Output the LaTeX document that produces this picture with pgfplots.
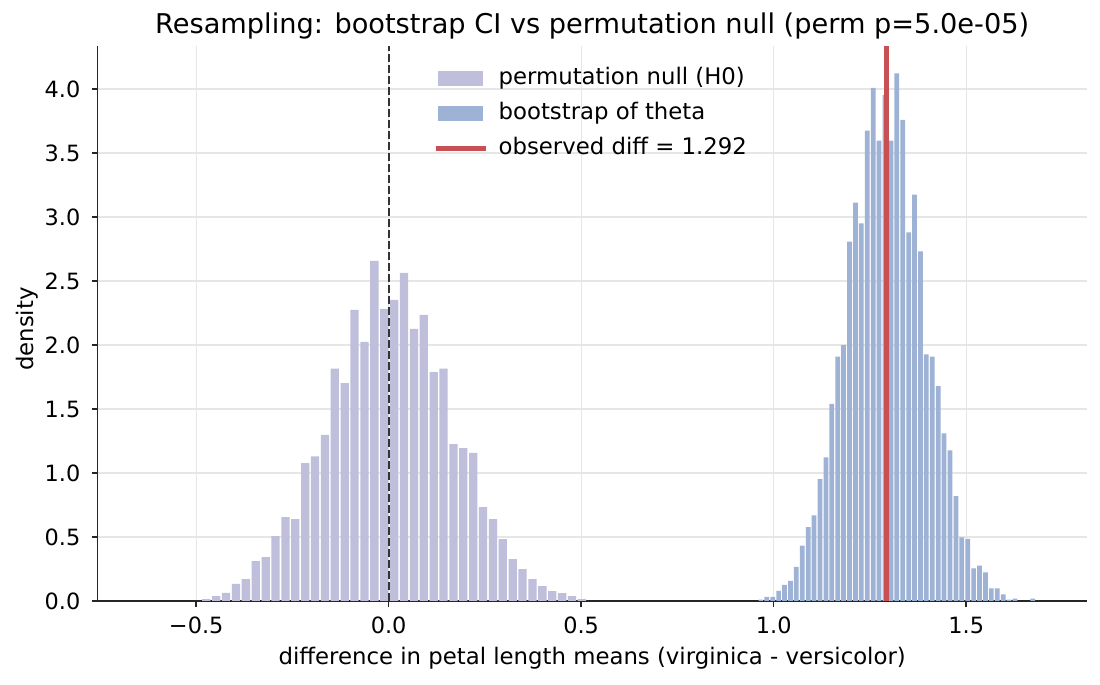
\documentclass[border=0pt]{standalone}
\usepackage{fontspec}
\setmainfont{DejaVu Sans}
\usepackage{pgfplots}
\usepackage{pgfplotstable}
\pgfplotsset{compat=1.18}

\definecolor{permfill}{RGB}{191,191,219}
\definecolor{bootfill}{RGB}{157,178,212}
\definecolor{obsred}{RGB}{199,80,84}
\definecolor{zeroline}{RGB}{51,51,51}
\definecolor{gridgray}{RGB}{230,230,230}
\definecolor{spine}{RGB}{38,38,38}

% permutation null: bin centre, density
\pgfplotstableread{
x y
-0.4736 0.014
-0.4479 0.038
-0.4223 0.064
-0.3966 0.134
-0.3709 0.171
-0.3453 0.311
-0.3196 0.343
-0.2939 0.507
-0.2682 0.656
-0.2426 0.640
-0.2169 1.078
-0.1912 1.130
-0.1656 1.297
-0.1399 1.815
-0.1142 1.703
-0.0886 2.274
-0.0629 2.024
-0.0372 2.657
-0.0115 2.282
0.0141 2.352
0.0398 2.563
0.0655 2.125
0.0911 2.235
0.1168 1.789
0.1425 1.815
0.1681 1.226
0.1938 1.195
0.2195 1.158
0.2451 0.734
0.2708 0.640
0.2965 0.484
0.3222 0.327
0.3478 0.249
0.3735 0.171
0.3992 0.116
0.4248 0.077
0.4505 0.061
0.4762 0.038
0.5018 0.014
}\permtable

% bootstrap of theta: bin centre, density
\pgfplotstableread{
x y
0.9667 0.011
0.9821 0.033
0.9974 0.033
1.0128 0.079
1.0281 0.125
1.0435 0.158
1.0588 0.266
1.0742 0.432
1.0895 0.578
1.1049 0.668
1.1202 0.953
1.1356 1.122
1.1509 1.540
1.1663 1.909
1.1816 1.999
1.1970 2.808
1.2123 3.112
1.2277 2.950
1.2430 3.675
1.2584 4.009
1.2737 3.596
1.2891 3.954
1.3044 3.596
1.3198 4.123
1.3351 3.759
1.3505 2.879
1.3658 3.175
1.3812 2.732
1.3965 1.926
1.4119 1.909
1.4272 1.678
1.4426 1.309
1.4579 1.176
1.4733 0.820
1.4886 0.497
1.5040 0.486
1.5193 0.255
1.5347 0.277
1.5500 0.223
1.5654 0.098
1.5807 0.098
1.5961 0.052
1.6114 0.011
1.6268 0.019
1.6728 0.019
}\boottable

\begin{document}
\begin{tikzpicture}
\useasboundingbox (0,0) rectangle (550pt,342.5pt);
\begin{axis}[
  at={(48.85pt,42pt)}, anchor=south west,
  width=494.5pt, height=277.5pt, scale only axis,
  xmin=-0.7558, xmax=1.813, ymin=0, ymax=4.336,
  axis x line*=bottom, axis y line*=left,
  axis line style={-, line width=0.75pt, spine},
  xtick={-0.5,0,0.5,1,1.5},
  xticklabels={−0.5,0.0,0.5,1.0,1.5},
  ytick={0,0.5,1,1.5,2,2.5,3,3.5,4},
  yticklabels={0.0,0.5,1.0,1.5,2.0,2.5,3.0,3.5,4.0},
  tick align=outside, major tick length=3pt,
  every tick/.style={spine, line width=0.7pt},
  grid=major, major grid style={gridgray, line width=0.6pt},
  tick label style={font=\fontsize{11.2pt}{13.4pt}\selectfont, text=black, inner sep=0pt},
  xticklabel style={anchor=base, yshift=-13.5pt},
  yticklabel style={anchor=east, xshift=-5.5pt},
  every axis title shift=0pt,
  title={Resampling: bootstrap CI vs permutation null (perm p=5.0e-05)},
  title style={at={(axis description cs:0.5,1)}, anchor=base, yshift=6.35pt, inner sep=0pt, font=\fontsize{13.6pt}{16pt}\selectfont},
  xlabel={difference in petal length means (virginica - versicolor)},
  xlabel style={at={(axis description cs:0.5,-0.1153)}, anchor=base, inner sep=0pt, font=\fontsize{11.4pt}{13.6pt}\selectfont},
  ylabel={density},
  ylabel style={at={(axis description cs:-0.0651,0.49)}, anchor=base, inner sep=0pt, font=\fontsize{11.4pt}{13.6pt}\selectfont},
  legend style={at={(axis description cs:0.333,0.97)}, anchor=north west, draw=none, fill=none,
    font=\fontsize{11.4pt}{13.6pt}\selectfont, nodes={inner sep=0pt, text height=8.5pt, text depth=2.5pt},
    row sep=6.7pt, column sep=5.2pt},
  legend cell align=left,
]
% histogram bars: filled only, narrower than the bin so a thin white gap remains
\addplot[ybar, bar width=0.0215, bar shift=0pt, fill=permfill, draw=none,
  legend image code/.code={\fill[permfill] (0pt,-3.75pt) rectangle (22.5pt,3.75pt);}]
  table[x=x,y=y]{\permtable};
\addlegendentry{permutation null (H0)}
\addplot[ybar, bar width=0.0123, bar shift=0pt, fill=bootfill, draw=none,
  legend image code/.code={\fill[bootfill] (0pt,-3.75pt) rectangle (22.5pt,3.75pt);}]
  table[x=x,y=y]{\boottable};
\addlegendentry{bootstrap of theta}
% null reference at zero
\addplot[zeroline, line width=1.1pt, dash pattern=on 4pt off 1.5pt, forget plot]
  coordinates {(0,0) (0,4.336)};
% observed difference
\addplot[obsred, line width=2.5pt,
  legend image code/.code={\draw[obsred, line width=2.4pt] (-1pt,0pt) -- (24pt,0pt);}]
  coordinates {(1.292,0) (1.292,4.336)};
\addlegendentry{observed diff = 1.292}
\end{axis}
\end{tikzpicture}
\end{document}
